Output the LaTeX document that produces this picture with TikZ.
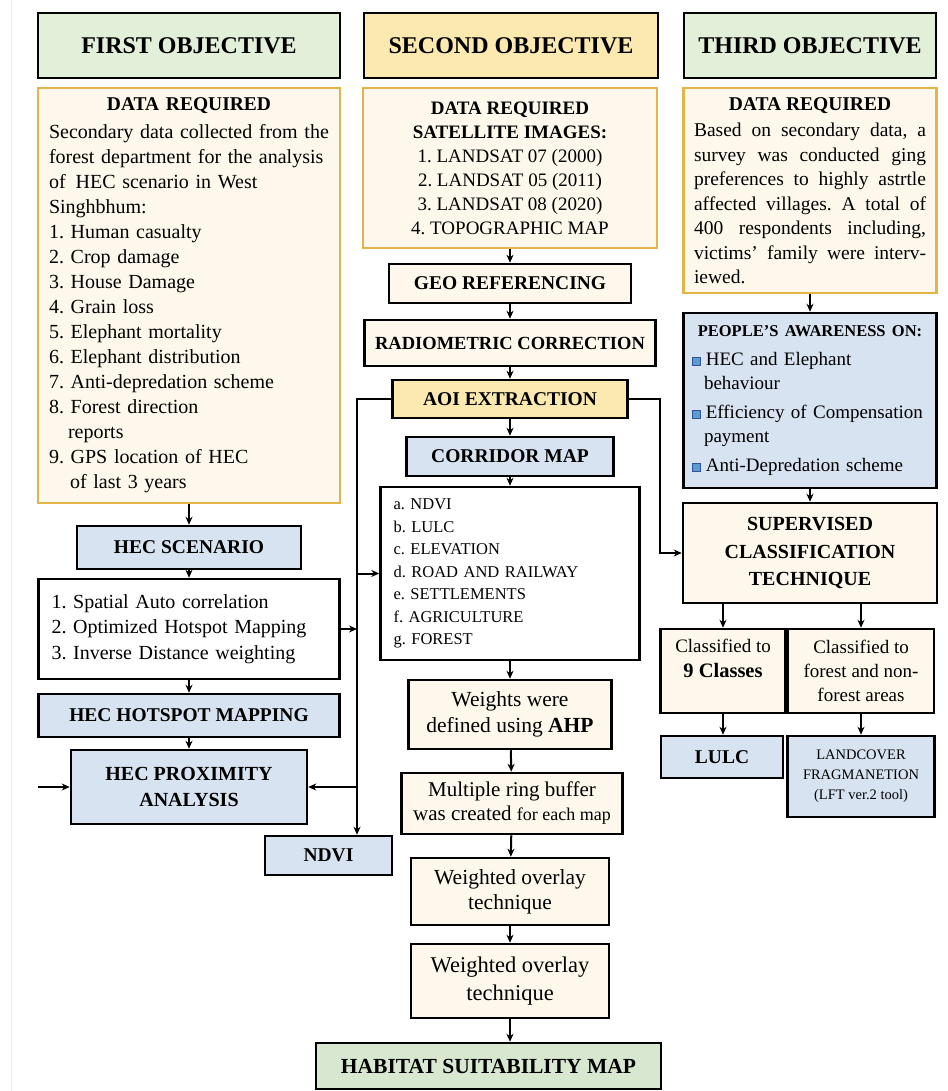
\documentclass[tikz,border=0pt]{standalone}
\usepackage{fontspec}
\setmainfont{Liberation Serif}
\usetikzlibrary{arrows.meta}
\definecolor{objgreen}{HTML}{E2EFD9}
\definecolor{habgreen}{HTML}{D8E8D0}
\definecolor{objgold}{HTML}{FBE9B0}
\definecolor{cream}{HTML}{FDF8EB}
\definecolor{goldline}{HTML}{E3B448}
\definecolor{pblue}{HTML}{D7E3F0}
\definecolor{bulfill}{HTML}{5B9BD5}
\definecolor{bulline}{HTML}{2F5597}
\newcommand{\sqbul}{{\fboxsep=0pt\fboxrule=0.9pt\fcolorbox{bulline}{bulfill}{\rule{0pt}{7pt}\hspace{7pt}}}}
\frenchspacing
\begin{document}
\begin{tikzpicture}[x=1pt,y=-1pt,->,>={Stealth[length=8pt,width=7pt]},line width=2pt,
    objbox/.style={draw,line width=2.8pt,font=\fontsize{24}{28}\selectfont\bfseries},
    datbox/.style={draw=goldline,fill=cream,line width=2.5pt,inner sep=0pt},
    box/.style={draw,line width=2.5pt,inner sep=2pt,align=center},
    bluebox/.style={box,fill=pblue},
    creambox/.style={box,fill=cream},
    lab/.style={font=\fontsize{19.5}{24}\selectfont\bfseries},
    txt/.style={font=\fontsize{20}{25}\selectfont\frenchspacing}]
    \useasboundingbox (0,0) rectangle (947,1091);
    \fill[white] (0,0) rectangle (947,1091);
    \draw[-,black!7,line width=1pt] (11,0) -- (11,1091);
    % objectives
    \node[objbox,fill=objgreen,minimum width=302pt,minimum height=65pt] (obj1) at (189,45.5) {FIRST OBJECTIVE};
    \node[objbox,fill=objgold,minimum width=294pt,minimum height=65pt] (obj2) at (511,45.5) {SECOND OBJECTIVE};
    \node[objbox,fill=objgreen,minimum width=252pt,minimum height=65pt] (obj3) at (810,45.5) {THIRD OBJECTIVE};
    % data required
    \node[datbox,minimum width=302pt,minimum height=415pt,text width=280pt,align=left,txt] (dat1) at (189,295.5)
        {\makebox[\linewidth]{\textbf{\fontsize{19.5}{24}\selectfont DATA REQUIRED}}\\[3pt]
        Secondary data collected from the\\ forest department for the analysis\\ of\enspace HEC scenario in West\\ Singhbhum:\\
        1. Human casualty\\ 2. Crop damage\\ 3. House Damage\\ 4. Grain loss\\ 5. Elephant mortality\\
        6. Elephant distribution\\ 7. Anti-depredation scheme\\ 8. Forest direction\\ \hspace*{19pt}reports\\
        9. GPS location of HEC\\ \hspace*{21pt}of last 3 years};
    \node[datbox,minimum width=294pt,minimum height=160pt,align=center,font=\fontsize{19}{24}\selectfont\frenchspacing] (dat2) at (510,168)
        {\textbf{DATA REQUIRED}\\ \textbf{SATELLITE IMAGES:}\\ 1. LANDSAT 07 (2000)\\ 2. LANDSAT 05 (2011)\\
        3. LANDSAT 08 (2020)\\ 4. TOPOGRAPHIC MAP};
    \node[datbox,minimum width=253pt,minimum height=205pt,text width=232pt,align=justify,font=\fontsize{19.5}{24.5}\selectfont\frenchspacing] (dat3) at (810,190.5)
        {\hyphenpenalty=10000\makebox[\linewidth]{\textbf{DATA REQUIRED}}\\[2pt]
        Based on secondary data, a\linebreak survey was conducted ging\linebreak preferences to highly astrtle\linebreak
        affected villages. A total of\linebreak 400 respondents including,\linebreak victims' family were interv-\linebreak iewed.};
    % first objective
    \node[bluebox,minimum width=224pt,minimum height=43pt,lab] (hecsc) at (189,547.5) {HEC SCENARIO};
    \node[box,fill=white,minimum width=301pt,minimum height=100pt,text width=275pt,align=left,inner sep=0pt,font=\fontsize{20}{25.5}\selectfont\frenchspacing] (meth) at (189,629)
        {1. Spatial Auto correlation\\ 2. Optimized Hotspot Mapping\\ 3. Inverse Distance weighting};
    \node[bluebox,minimum width=301pt,minimum height=43pt,lab] (hot) at (189,715.5) {HEC HOTSPOT MAPPING};
    \node[bluebox,minimum width=236pt,minimum height=74pt,font=\fontsize{20}{26}\selectfont\bfseries] (prox) at (189,787) {HEC PROXIMITY\\ ANALYSIS};
    \node[bluebox,minimum width=127pt,minimum height=39pt,lab] (ndvi) at (328.5,855.5) {NDVI};
    % second objective
    \node[creambox,minimum width=242pt,minimum height=39pt,lab] (geo) at (510,283.5) {GEO REFERENCING};
    \node[creambox,minimum width=291pt,minimum height=46pt,font=\fontsize{18.5}{22}\selectfont\bfseries] (radio) at (510,343) {RADIOMETRIC CORRECTION};
    \node[box,fill=objgold,minimum width=235pt,minimum height=38pt,lab] (aoi) at (510,399) {AOI EXTRACTION};
    \node[bluebox,minimum width=207pt,minimum height=39pt,lab] (corr) at (510,456.5) {CORRIDOR MAP};
    \node[box,fill=white,minimum width=259pt,minimum height=173pt,text width=233pt,align=left,inner sep=0pt,font=\fontsize{16.5}{22.5}\selectfont\frenchspacing] (lst) at (510,573.5)
        {a. NDVI\\ b. LULC\\ c. ELEVATION\\ d. ROAD AND RAILWAY\\ e. SETTLEMENTS\\ f. AGRICULTURE\\ g. FOREST};
    \node[creambox,minimum width=203pt,minimum height=69pt,font=\fontsize{21.5}{26}\selectfont] (wts) at (510,714.5) {Weights were\\ defined using \textbf{AHP}};
    \node[creambox,minimum width=221pt,minimum height=61pt,font=\fontsize{21}{24}\selectfont] (ring) at (512,803.5)
        {Multiple ring buffer\\ was created {\fontsize{18}{24}\selectfont for each map}};
    \node[creambox,minimum width=198pt,minimum height=67pt,font=\fontsize{21.5}{25}\selectfont] (wo1) at (510,891.5) {Weighted overlay\\ technique};
    \node[creambox,minimum width=198pt,minimum height=74pt,font=\fontsize{22.5}{28}\selectfont] (wo2) at (510,981) {Weighted overlay\\ technique};
    \node[box,fill=habgreen,minimum width=345pt,minimum height=46pt,font=\fontsize{21.5}{26}\selectfont\bfseries] (hab) at (488.5,1066) {HABITAT SUITABILITY MAP};
    % third objective
    \node[bluebox,minimum width=253pt,minimum height=175pt,text width=236pt,align=left,inner sep=0pt,font=\fontsize{19}{24.5}\selectfont] (aw) at (810,400.5)
        {\makebox[\linewidth]{\fontsize{16.5}{20}\selectfont\bfseries PEOPLE'S AWARENESS ON:}\\[4pt]
        \sqbul\hspace{5pt}HEC and Elephant\\ \hspace*{12pt}behaviour\\[4pt]
        \sqbul\hspace{5pt}Efficiency of Compensation\\ \hspace*{12pt}payment\\[4pt]
        \sqbul\hspace{5pt}Anti-Depredation scheme};
    \node[creambox,minimum width=254pt,minimum height=100pt,font=\fontsize{20}{27.5}\selectfont\bfseries] (sup) at (810,553) {SUPERVISED\\ CLASSIFICATION\\ TECHNIQUE};
    \node[creambox,minimum width=125pt,minimum height=84pt,font=\fontsize{19}{25}\selectfont] (c9) at (723,671) {Classified to\\ \textbf{\fontsize{20.5}{25}\selectfont 9 Classes}\\ \mbox{}};
    \node[creambox,minimum width=146pt,minimum height=84pt,font=\fontsize{19}{24}\selectfont] (cf) at (861,671) {Classified to\\ forest and non-\\ forest areas};
    \node[bluebox,minimum width=122pt,minimum height=42pt,lab] (lulc) at (722,757) {LULC};
    \node[bluebox,minimum width=147pt,minimum height=81pt,font=\fontsize{14.5}{20}\selectfont] (lfrag) at (861,776.5) {LANDCOVER\\ FRAGMANETION\\ (LFT ver.2 tool)};
    % connectors
    \coordinate (lin) at (38,787);
    \coordinate (vl) at (357,399);
    \coordinate (vr) at (660,399);
    \draw (dat1) -- (hecsc);
    \draw (hecsc) -- (meth);
    \draw (meth) -- (hot);
    \draw (hot) -- (prox);
    \draw (lin) -- (prox);
    \draw (meth) -- (vl |- meth);
    \draw (aoi) -- (vl) -- (vl |- ndvi.north);
    \draw (vl |- lst) -- (lst);
    \draw (vl |- prox) -- (prox);
    \draw (dat2) -- (geo);
    \draw (geo) -- (radio);
    \draw (radio) -- (aoi);
    \draw (aoi) -- (corr);
    \draw (corr) -- (lst);
    \draw (lst) -- (wts);
    \draw (wts) -- (ring);
    \draw (ring) -- (wo1);
    \draw (wo1) -- (wo2);
    \draw (wo2) -- (wo2 |- hab.north);
    \draw (aoi) -- (vr) -- (vr |- sup) -- (sup);
    \draw (dat3) -- (aw);
    \draw (aw) -- (sup);
    \draw (c9 |- sup.south) -- (c9);
    \draw (cf |- sup.south) -- (cf);
    \draw (c9) -- (c9 |- lulc.north);
    \draw (cf) -- (lfrag);
\end{tikzpicture}
\end{document}
